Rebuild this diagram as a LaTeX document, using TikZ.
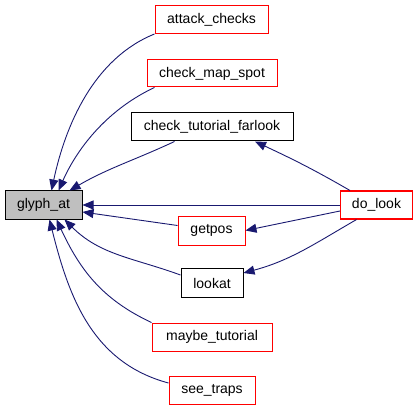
\documentclass[tikz,border=0pt]{standalone}
\usepackage{fontspec}
\setmainfont{Liberation Sans}
\usetikzlibrary{arrows.meta}
\definecolor{edgeblue}{RGB}{25,25,112}
\definecolor{extred}{RGB}{255,0,0}
\tikzset{
  fnbox/.style={draw=black,line width=1pt,minimum height=28pt,inner sep=0pt,font=\fontsize{14}{16}\selectfont},
  extbox/.style={fnbox,draw=extred},
  callee/.style={fnbox,fill=black!25},
  calledge/.style={edgeblue,line width=0.9pt,-{Triangle[length=11pt,width=9pt]}}
}
\begin{document}
\begin{tikzpicture}[x=1pt,y=-1pt]
\useasboundingbox (0,0) rectangle (419,411);
\node[callee,minimum width=77pt] (glyphat) at (43.5,205) {glyph\_at};
\node[extbox,minimum width=113pt] (attackchecks) at (211.5,19.5) {attack\_checks};
\node[extbox,minimum width=130pt,minimum height=27pt] (checkmapspot) at (212,73.5) {check\_map\_spot};
\node[fnbox,minimum width=162pt] (checktutorialfarlook) at (212,127) {check\_tutorial\_farlook};
\node[extbox,minimum width=72pt,line width=1.1pt] (dolook) at (376.5,205) {do\_look};
\node[extbox,minimum width=67pt,minimum height=29pt] (getpos) at (211.5,230.5) {getpos};
\node[fnbox,minimum width=62pt,minimum height=29pt] (lookat) at (212,283) {lookat};
\node[extbox,minimum width=120pt] (maybetutorial) at (212,337) {maybe\_tutorial};
\node[extbox,minimum width=86pt] (seetraps) at (212,390) {see\_traps};
\draw[calledge] (attackchecks.south west) to[out=202,in=78,looseness=0.9] ([xshift=8pt]glyphat.north);
\draw[calledge] ([xshift=8pt]checkmapspot.south west) to[out=205,in=66,looseness=0.9] ([xshift=15pt]glyphat.north);
\draw[calledge] ([xshift=44pt]checktutorialfarlook.south west) to[out=205,in=30] ([xshift=26pt]glyphat.north);
\draw[calledge] (dolook.west) -- (glyphat.east);
\draw[calledge] ([yshift=5pt]getpos.west) -- ([yshift=-7pt]glyphat.east);
\draw[calledge] ([yshift=8pt]lookat.west) to[out=160,in=-45] ([xshift=21pt]glyphat.south);
\draw[calledge] (maybetutorial.north west) to[out=155,in=-65] ([xshift=13pt]glyphat.south);
\draw[calledge] ([yshift=7pt]seetraps.west) to[out=165,in=-76] ([xshift=6pt]glyphat.south);
\draw[calledge] ([xshift=10pt]dolook.north west) to[out=150,in=-25] ([xshift=43pt]checktutorialfarlook.south);
\draw[calledge] ([yshift=-6pt]dolook.west) -- (getpos.east);
\draw[calledge] ([xshift=-20pt]dolook.south) to[out=210,in=15] ([yshift=10pt]lookat.east);
\end{tikzpicture}
\end{document}
